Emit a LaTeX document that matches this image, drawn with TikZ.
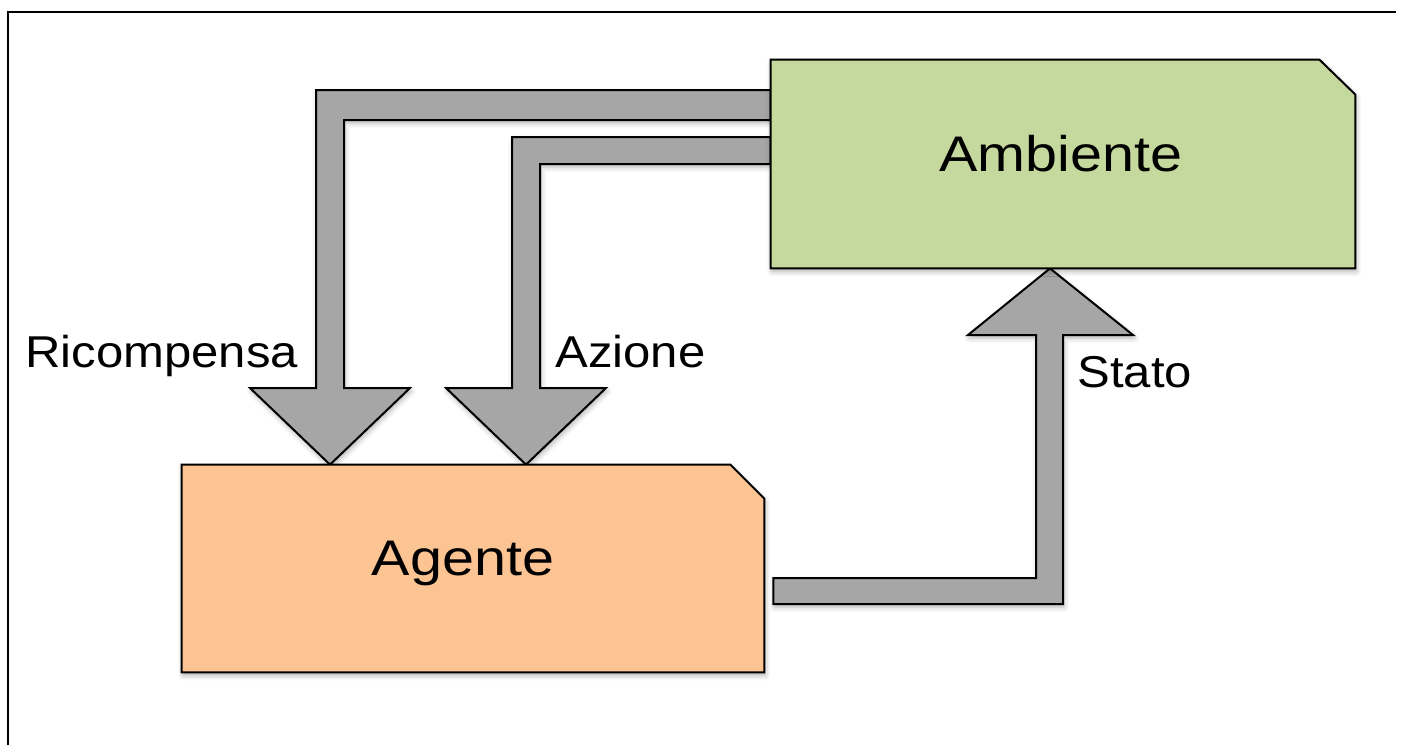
\documentclass[tikz,border=0pt]{standalone}
\usepackage{fontspec}
\setmainfont{Liberation Sans}
\usetikzlibrary{calc,shadows.blur}

\definecolor{ambfill}{RGB}{197,216,157}
\definecolor{agfill}{RGB}{251,196,146}
\definecolor{flowfill}{RGB}{166,166,166}

\tikzset{
  softshadow/.style={blur shadow={shadow xshift=0.6pt, shadow yshift=-1.6pt,
      shadow blur radius=2.5pt, shadow opacity=30}},
  boxarea/.style={draw=none, inner sep=0pt},
  boxline/.style={draw=black, line width=1pt, line join=miter, softshadow},
  flow/.style={draw=black, line width=1pt, line join=miter, fill=flowfill, softshadow},
  boxtext/.style={inner sep=0pt, font=\fontsize{25}{30}\selectfont},
  flowtext/.style={inner sep=0pt, font=\fontsize{22.3}{27}\selectfont},
}

\begin{document}
\begin{tikzpicture}[x=0.5pt, y=-0.5pt]
  \useasboundingbox (0,0) rectangle (1403,745);

  % frame lines
  \draw[line width=0.75pt] (8,745) -- (8,12) -- (1396,12);

  % box areas
  \node[boxarea, minimum width=292pt, minimum height=104pt] (amb) at (1063,164) {};
  \node[boxarea, minimum width=291pt, minimum height=103.5pt] (ag) at (473,568.5) {};

  % reward flow: environment -> agent
  \draw[flow] (amb.west |- 0,90) -- (316,90) -- (316,388) -- (250,388)
    -- (ag.north -| 330,0) -- (410,388) -- (344,388) -- (344,120)
    -- (amb.west |- 0,120) -- cycle;

  % action flow: environment -> agent
  \draw[flow] (amb.west |- 0,137) -- (512,137) -- (512,388) -- (446,388)
    -- (ag.north -| 526,0) -- (606,388) -- (540,388) -- (540,164)
    -- (amb.west |- 0,164) -- cycle;

  % state flow: agent -> environment
  \draw[flow] ($(ag.east |- 0,578)+(9,0)$) -- (1036,578) -- (1036,335) -- (968,335)
    -- (amb.south -| 1050,0) -- (1133,335) -- (1063,335) -- (1063,604)
    -- ($(ag.east |- 0,604)+(9,0)$) -- cycle;

  % boxes with a cut corner
  \draw[boxline, fill=ambfill] (amb.south west) -- (amb.north west)
    -- ($(amb.north east)+(-36,0)$) -- ($(amb.north east)+(0,35)$)
    -- (amb.south east) -- cycle;
  \draw[boxline, fill=agfill] (ag.south west) -- (ag.north west)
    -- ($(ag.north east)+(-34,0)$) -- ($(ag.north east)+(0,34)$)
    -- (ag.south east) -- cycle;

  % texts
  \node[boxtext, anchor=base] (ambtxt) at (1061,171) {\scalebox{1.15}[1]{Ambiente}};
  \node[boxtext, anchor=base] (agtxt) at (463,575) {\scalebox{1.15}[1]{Agente}};
  \node[flowtext, anchor=base west] (ricl) at (25,367) {\scalebox{1.1}[1]{Ricompensa}};
  \node[flowtext, anchor=base west] (azl) at (555,367) {\scalebox{1.1}[1]{Azione}};
  \node[flowtext, anchor=base west] (stl) at (1077,387) {\scalebox{1.1}[1]{Stato}};
\end{tikzpicture}
\end{document}
